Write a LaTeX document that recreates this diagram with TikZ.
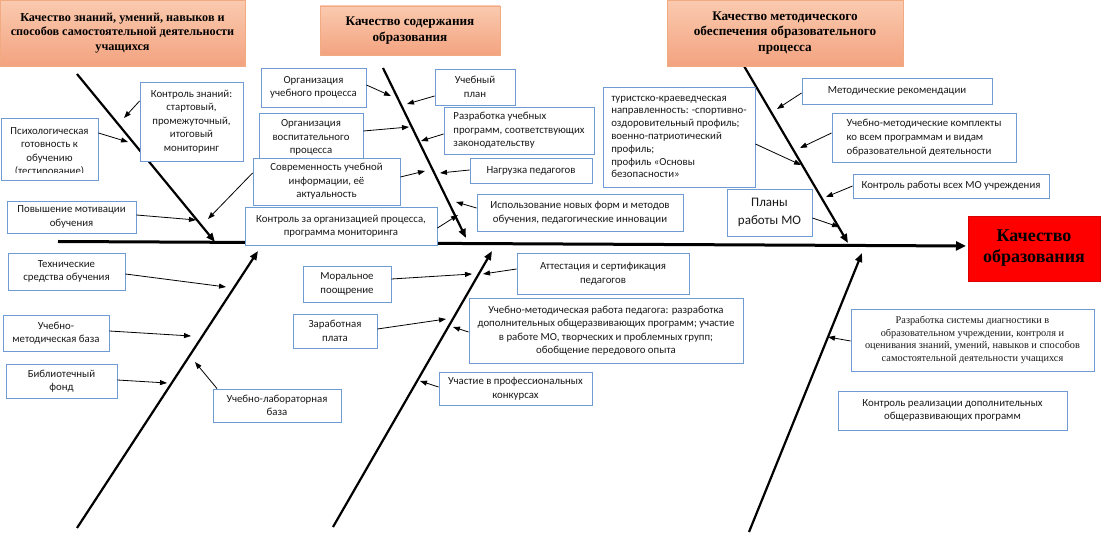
\documentclass[tikz,border=0pt]{standalone}
\usepackage{fontspec}
\setmainfont{Carlito}
\newfontfamily\tnr{Liberation Serif}
\usetikzlibrary{arrows.meta}
\definecolor{bxc}{RGB}{110,155,212}
\definecolor{txt}{RGB}{25,25,25}
\definecolor{orL}{RGB}{250,202,175}
\definecolor{orD}{RGB}{243,163,128}
\definecolor{orB}{RGB}{242,170,130}
\begin{document}
\begin{tikzpicture}[x=1pt,y=-1pt,
 bx/.style={draw=bxc,line width=0.9pt,fill=white,text=txt,font=\fontsize{10.8}{13.5}\selectfont,align=center,inner sep=0pt},
 ttl/.style={draw=orB,line width=0.9pt,top color=orL,bottom color=orD,text=black,font=\tnr\bfseries\fontsize{13.2}{15.5}\selectfont,align=center,inner sep=0pt},
 bone/.style={line width=2.2pt,-{Triangle[length=9pt,width=7pt]}},
 spn/.style={line width=3pt,-{Triangle[length=10pt,width=9pt]}},
 con/.style={line width=0.8pt,-{Triangle[length=7pt,width=5pt]}}]
\useasboundingbox (0,0) rectangle (1101,534);

% spine and bones
\coordinate (sp0) at (58,241.5);
\coordinate (sp1) at (966,246);
\draw[spn] (sp0) -- (sp1);
\coordinate (b1s) at (77,74);   \coordinate (b1e) at (215,242);
\coordinate (b2s) at (383,68);  \coordinate (b2e) at (466,238);
\coordinate (b3s) at (744,66);  \coordinate (b3e) at (848,243);
\coordinate (b4s) at (77,528);  \coordinate (b4e) at (258,251);
\coordinate (b5s) at (333,527); \coordinate (b5e) at (492,251);
\coordinate (b6s) at (749,532); \coordinate (b6e) at (862,253);
\draw[bone] (b1s) -- (b1e);
\draw[bone] (b2s) -- (b2e);
\draw[bone] (b3s) -- (b3e);
\draw[bone] (b4s) -- (b4e);
\draw[bone] (b5s) -- (b5e);
\draw[bone] (b6s) -- (b6e);

% title boxes
\node[ttl,minimum width=245pt,minimum height=66pt,font=\tnr\bfseries\fontsize{12.2}{14.5}\selectfont] (t1) at (122.5,33) {Качество знаний, умений, навыков и\\способов самостоятельной деятельности\\учащихся};
\node[ttl,minimum width=180pt,minimum height=49pt] (t2) at (410,30.5) {Качество содержания\\образования};
\node[ttl,minimum width=236pt,minimum height=66pt] (t3) at (785,33) {Качество методического\\обеспечения образовательного\\процесса};
\node[draw=red!85!black,line width=0.6pt,fill=red,text=black,font=\tnr\bfseries\fontsize{18}{21}\selectfont,align=center,inner sep=0pt,minimum width=132pt,minimum height=65pt] (R) at (1034,248.5) {Качество\\образования};

% boxes left upper
\node[bx,minimum width=103pt,minimum height=79pt] (kz) at (191.5,121.5) {Контроль знаний:\\стартовый,\\промежуточный,\\итоговый\\мониторинг};
\node[bx,minimum width=97pt,minimum height=62pt] (psy) at (49.5,149) {};
\begin{scope}
\clip (1,119) rectangle (98,173);
\node[text=txt,font=\fontsize{10.8}{13.2}\selectfont,align=center,inner sep=0pt] (psyt) at (49.5,152) {Психологическая\\готовность к\\обучению\\(тестирование)};
\end{scope}
\node[bx,minimum width=129pt,minimum height=32pt] (motiv) at (71.5,217) {Повышение мотивации\\обучения};

% boxes middle upper
\node[bx,minimum width=105pt,minimum height=39pt] (orgU) at (313.5,87.5) {Организация\\учебного процесса};
\node[bx,minimum width=104pt,minimum height=49pt] (orgV) at (311,137.5) {Организация\\воспитательного\\процесса};
\node[bx,minimum width=147pt,minimum height=47pt] (sovr) at (326.5,181.5) {Современность учебной\\информации, её\\актуальность};
\node[bx,minimum width=192pt,minimum height=38pt] (kontrP) at (341,226) {Контроль за организацией процесса,\\программа мониторинга};
\node[bx,minimum width=80pt,minimum height=36pt] (uplan) at (475,87) {Учебный\\план};
\node[bx,minimum width=150pt,minimum height=47pt,align=left] (razrab) at (519,130.5) {Разработка учебных\\программ, соответствующих\\законодательству};
\node[bx,minimum width=122pt,minimum height=25pt] (nagr) at (531,170.5) {Нагрузка педагогов};
\node[bx,minimum width=206pt,minimum height=37pt] (ispol) at (580,212.5) {Использование новых форм и методов\\обучения, педагогические инновации};

% boxes right upper
\node[bx,minimum width=152pt,minimum height=100pt,align=left,font=\fontsize{10.8}{12.8}\selectfont] (tur) at (679,137) {туристско-краеведческая\\направленность: -спортивно-\\оздоровительный профиль;\\военно-патриотический\\профиль;\\профиль «Основы\\безопасности»};
\node[bx,minimum width=190pt,minimum height=26pt] (metrek) at (897,91) {Методические рекомендации};
\node[bx,minimum width=184pt,minimum height=49pt,align=left,font=\fontsize{10.8}{14}\selectfont] (umk) at (924,137.5) {Учебно-методические комплекты\\ко всем программам и видам\\образовательной деятельности};
\node[bx,minimum width=196pt,minimum height=24pt] (kontrMO) at (951,186) {Контроль работы всех МО учреждения};
\node[bx,minimum width=85pt,minimum height=47pt,font=\fontsize{13}{18}\selectfont] (plany) at (769.5,212.5) {Планы\\работы МО};

% boxes left lower
\node[bx,minimum width=117pt,minimum height=37pt] (tech) at (66.5,271.5) {Технические\\средства обучения};
\node[bx,minimum width=106pt,minimum height=36pt] (umb) at (56,333) {Учебно-\\методическая база};
\node[bx,minimum width=111pt,minimum height=34pt] (bib) at (61.5,381) {Библиотечный\\фонд};
\node[bx,minimum width=128pt,minimum height=33pt] (ulab) at (277,405.5) {Учебно-лабораторная\\база};

% boxes middle lower
\node[bx,minimum width=88pt,minimum height=36pt] (moral) at (347,284) {Моральное\\поощрение};
\node[bx,minimum width=84pt,minimum height=34pt] (zarp) at (335,331) {Заработная\\плата};
\node[bx,minimum width=172pt,minimum height=41pt] (att) at (603,273.5) {Аттестация и сертификация\\педагогов};
\node[bx,minimum width=274pt,minimum height=65pt] (umr) at (606,330.5) {Учебно-методическая работа педагога: разработка\\дополнительных общеразвивающих программ; участие\\в работе МО, творческих и проблемных групп;\\обобщение передового опыта};
\node[bx,minimum width=153pt,minimum height=33pt] (uch) at (515.5,388.5) {Участие в профессиональных\\конкурсах};

% boxes right lower
\node[bx,minimum width=243pt,minimum height=62pt,font=\tnr\fontsize{10.3}{12.7}\selectfont] (diag) at (972.5,340) {Разработка системы диагностики в\\образовательном учреждении, контроля и\\оценивания знаний, умений, навыков и способов\\самостоятельной деятельности учащихся};
\node[bx,minimum width=229pt,minimum height=39pt] (kreal) at (952.5,410.5) {Контроль реализации дополнительных\\общеразвивающих программ};

% connector tips
\coordinate (c1) at (124,118);
\coordinate (c2) at (128,142);
\coordinate (c3) at (196,220);
\coordinate (c4) at (208,219);
\coordinate (c5) at (391,96);
\coordinate (c6) at (409,127);
\coordinate (c7) at (425,171);
\coordinate (c8) at (458,215);
\coordinate (c9) at (407,104);
\coordinate (c10) at (421,141);
\coordinate (c11) at (440,173);
\coordinate (c12) at (456,202);
\coordinate (c13) at (801,165);
\coordinate (c14) at (777,109);
\coordinate (c15) at (800,148);
\coordinate (c16) at (826,197);
\coordinate (c17) at (839,227);
\coordinate (c18) at (226,287);
\coordinate (c19) at (191,336);
\coordinate (c20) at (167,383);
\coordinate (c21) at (195,362);
\coordinate (c22) at (472,274);
\coordinate (c23) at (446,319);
\coordinate (c24) at (483,274);
\coordinate (c25) at (453,327);
\coordinate (c26) at (420,381);
\coordinate (c27) at (828,337);

% connectors
\draw[con] (kz.west |- 0,101) -- (c1);
\draw[con] (psy.east |- 0,133) -- (c2);
\draw[con] (motiv.east |- 0,215) -- (c3);
\draw[con] (sovr.west |- 0,173) -- (c4);
\draw[con] (orgU.east |- 0,85) -- (c5);
\draw[con] (orgV.east |- 0,131) -- (c6);
\draw[con] (sovr.east |- 0,177) -- (c7);
\draw[con] (kontrP.east |- 0,228) -- (c8);
\draw[con] (uplan.west |- 0,96) -- (c9);
\draw[con] (razrab.west |- 0,134) -- (c10);
\draw[con] (nagr.west |- 0,170) -- (c11);
\draw[con] (ispol.west |- 0,208) -- (c12);
\draw[con] (tur.east |- 0,144) -- (c13);
\draw[con] (metrek.west |- 0,93) -- (c14);
\draw[con] (umk.west |- 0,133) -- (c15);
\draw[con] (kontrMO.west |- 0,186) -- (c16);
\draw[con] (plany.east |- 0,218) -- (c17);
\draw[con] (tech.east |- 0,274) -- (c18);
\draw[con] (umb.east |- 0,331) -- (c19);
\draw[con] (bib.east |- 0,380) -- (c20);
\draw[con] (ulab.north -| 217,0) -- (c21);
\draw[con] (moral.east |- 0,279) -- (c22);
\draw[con] (zarp.east |- 0,329) -- (c23);
\draw[con] (att.west |- 0,269) -- (c24);
\draw[con] (umr.west |- 0,332) -- (c25);
\draw[con] (uch.west |- 0,387) -- (c26);
\draw[con] (diag.west |- 0,341) -- (c27);
\end{tikzpicture}
\end{document}
